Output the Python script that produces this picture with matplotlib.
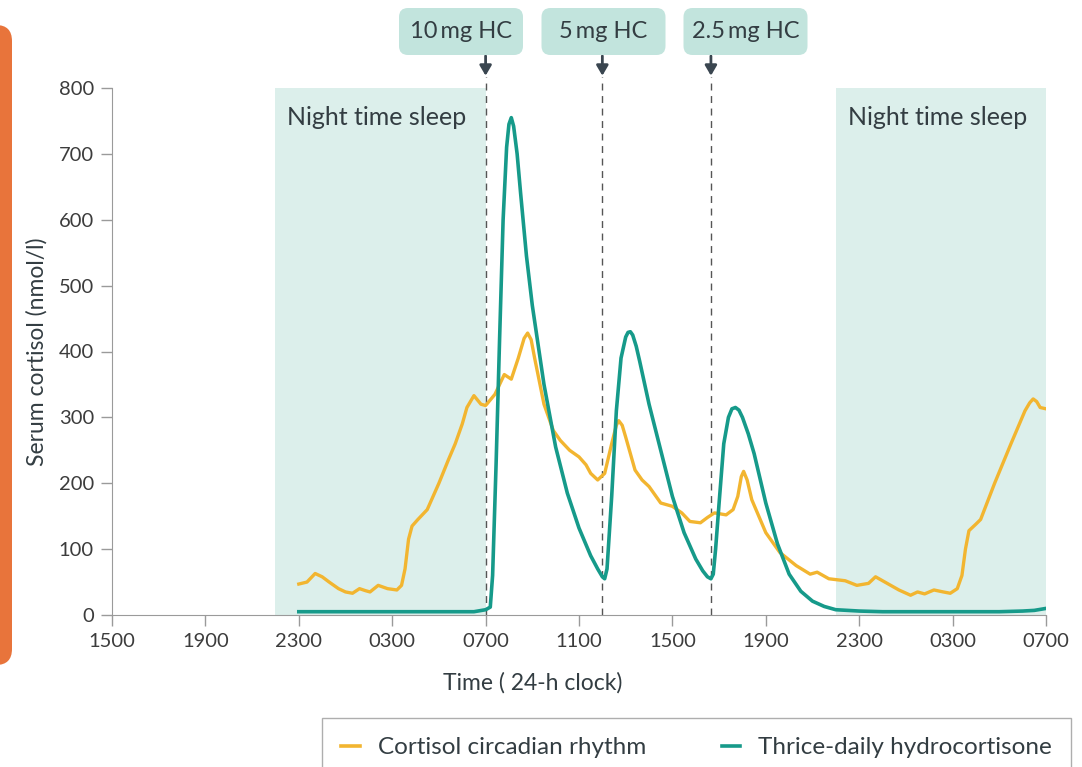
import matplotlib
matplotlib.use('Agg')
import matplotlib.pyplot as plt
from matplotlib.patches import FancyBboxPatch
from matplotlib.transforms import IdentityTransform
from matplotlib.lines import Line2D

plt.rcParams['font.family'] = ['Lato', 'DejaVu Sans']

# hours since 1500 on day 1 (axis runs 40 h, 1500 -> 0700 two days later)
tick_hours = [0, 4, 8, 12, 16, 20, 24, 28, 32, 36, 40]
tick_labels = ['1500', '1900', '2300', '0300', '0700', '1100',
               '1500', '1900', '2300', '0300', '0700']

# cortisol circadian rhythm (nmol/l)
cort_t = [8.0, 8.35, 8.7, 9.0, 9.3, 9.7, 10.0, 10.3, 10.6, 10.85, 11.05, 11.4,
          11.8, 12.2, 12.4, 12.55, 12.7, 12.85, 13.1, 13.5, 14.0, 14.4, 14.7,
          15.0, 15.2, 15.5, 15.8, 16.0, 16.4, 16.8, 17.1, 17.4, 17.65, 17.8,
          17.95, 18.1, 18.5, 18.9, 19.2, 19.6, 20.0, 20.3, 20.5, 20.8, 21.1,
          21.4, 21.6, 21.7, 21.85, 22.0, 22.4, 22.7, 23.0, 23.5, 24.0, 24.4,
          24.75, 25.2, 25.5, 25.8, 26.3, 26.6, 26.8, 26.95, 27.05, 27.2, 27.4,
          28.0, 28.6, 29.3, 29.9, 30.2, 30.7, 31.4, 31.9, 32.4, 32.7, 33.1,
          33.7, 34.2, 34.5, 34.8, 35.2, 35.6, 35.9, 36.2, 36.4, 36.55, 36.7,
          37.0, 37.2, 37.8, 38.5, 39.1, 39.3, 39.45, 39.6, 39.75, 40.0]
cort_v = [47, 50, 63, 58, 50, 40, 35, 33, 40, 37, 35, 45, 40, 38, 45, 70, 115,
          135, 145, 160, 200, 235, 260, 290, 315, 333, 320, 318, 335, 365, 358,
          390, 420, 428, 418, 390, 320, 280, 265, 250, 240, 228, 215, 205, 215,
          260, 288, 295, 288, 270, 220, 205, 195, 170, 165, 155, 142, 140, 148,
          155, 152, 160, 180, 210, 218, 205, 175, 125, 95, 75, 62, 65, 55, 52,
          45, 48, 58, 50, 38, 30, 35, 32, 38, 35, 33, 40, 60, 100, 128, 138,
          145, 200, 260, 310, 322, 328, 324, 315, 313]

# thrice-daily hydrocortisone (nmol/l)
hc_t = [8.0, 10.0, 12.0, 14.0, 15.5, 16.0, 16.2, 16.3, 16.45, 16.6, 16.75,
        16.9, 17.0, 17.1, 17.2, 17.35, 17.5, 17.75, 18.0, 18.5, 19.0, 19.5,
        20.0, 20.5, 20.8, 21.0, 21.1, 21.2, 21.4, 21.6, 21.8, 22.0, 22.1, 22.2,
        22.3, 22.45, 22.6, 23.0, 23.5, 24.0, 24.5, 25.0, 25.3, 25.5, 25.65,
        25.75, 25.85, 26.0, 26.2, 26.4, 26.55, 26.7, 26.85, 27.0, 27.25, 27.5,
        28.0, 28.5, 29.0, 29.5, 30.0, 30.5, 31.0, 32.0, 33.0, 36.0, 38.0,
        39.0, 39.5, 40.0]
hc_v = [5, 5, 5, 5, 5, 8, 12, 60, 230, 420, 600, 710, 745, 755, 742, 700, 640,
        545, 470, 350, 255, 185, 132, 90, 70, 58, 55, 70, 180, 310, 390, 422,
        429, 430, 425, 408, 385, 320, 250, 180, 125, 85, 67, 58, 55, 62, 100,
        170, 260, 300, 313, 315, 311, 300, 275, 245, 170, 108, 62, 36, 21, 13,
        8, 6, 5, 5, 5, 6, 7, 10]

sleep_spans = [(7, 16), (31, 40)]
dose_hours = [16.0, 21.0, 25.65]
dose_labels = ['10\u2009mg HC', '5\u2009mg HC', '2.5\u2009mg HC']

teal = '#169a8a'
gold = '#f2b530'
shade = '#dcefeb'
dark = '#333d42'

fig = plt.figure(figsize=(10.82, 7.67), dpi=100)
ax = fig.add_axes([112 / 1082, 1 - 615 / 767, 934 / 1082, 527 / 767])

for a, b in sleep_spans:
    ax.axvspan(a, b, color=shade, lw=0, zorder=0)
ax.text(7.5, 755, 'Night time sleep', fontsize=18, color=dark, va='center')
ax.text(31.5, 755, 'Night time sleep', fontsize=18, color=dark, va='center')

for d in dose_hours:
    ax.axvline(d, ymin=0, ymax=1.02, color='#555555', lw=1, ls=(0, (5, 4)),
               clip_on=False, zorder=1)
    ax.annotate('', xy=(d, 1.018), xycoords=('data', 'axes fraction'),
                xytext=(d, 1.066), textcoords=('data', 'axes fraction'),
                arrowprops=dict(arrowstyle='-|>,head_width=0.35,head_length=0.6',
                                color='#3a4650', lw=2))

ax.plot(cort_t, cort_v, color=gold, lw=2.4, zorder=3, solid_joinstyle='round')
ax.plot(hc_t, hc_v, color=teal, lw=2.6, zorder=4, solid_joinstyle='round')

ax.set_xlim(0, 40)
ax.set_ylim(0, 800)
ax.set_xticks(tick_hours)
ax.set_xticklabels(tick_labels)
ax.set_yticks(range(0, 801, 100))
for s in ['top', 'right']:
    ax.spines[s].set_visible(False)
for s in ['left', 'bottom']:
    ax.spines[s].set_color('#9a9a9a')
ax.tick_params(colors='#9a9a9a', labelcolor='#3c3c3c', labelsize=14.5,
               length=8, width=1, direction='out', pad=5)
ax.set_ylabel('Serum cortisol (nmol/l)', fontsize=16.5, color=dark, labelpad=8)
fig.text(533 / 1082, 1 - 683 / 767, 'Time ( 24-h clock)', fontsize=16.5,
         color=dark, ha='center', va='center')

# dose boxes (pixel coords)
box_centres = [461, 603.5, 745.5]
for cx, lab in zip(box_centres, dose_labels):
    fig.add_artist(FancyBboxPatch((cx - 62, 767 - 55), 124, 47,
                                  boxstyle='round,pad=0,rounding_size=9',
                                  fc='#c2e4dd', ec='none',
                                  transform=IdentityTransform()))
    fig.text(cx / 1082, 1 - 31 / 767, lab, fontsize=17, color=dark,
             ha='center', va='center')

# orange edge strip on the left
fig.add_artist(FancyBboxPatch((-30, 767 - 665), 42, 640,
                              boxstyle='round,pad=0,rounding_size=16',
                              fc='#e8743b', ec='none',
                              transform=IdentityTransform()))

handles = [Line2D([], [], color=gold, lw=2.6),
           Line2D([], [], color=teal, lw=2.6)]
leg = fig.legend(handles, ['Cortisol circadian rhythm', 'Thrice-daily hydrocortisone'],
                 loc='upper left', bbox_to_anchor=(322 / 1082, 1 - 718 / 767),
                 ncol=2, fontsize=17.5, frameon=True, fancybox=False,
                 handlelength=0.75, handletextpad=0.75, columnspacing=3.1,
                 borderpad=0.8, borderaxespad=0)
leg.get_frame().set_edgecolor('#9a9a9a')
leg.get_frame().set_linewidth(1)
for t in leg.get_texts():
    t.set_color(dark)

fig.savefig('out.png', dpi=100)
